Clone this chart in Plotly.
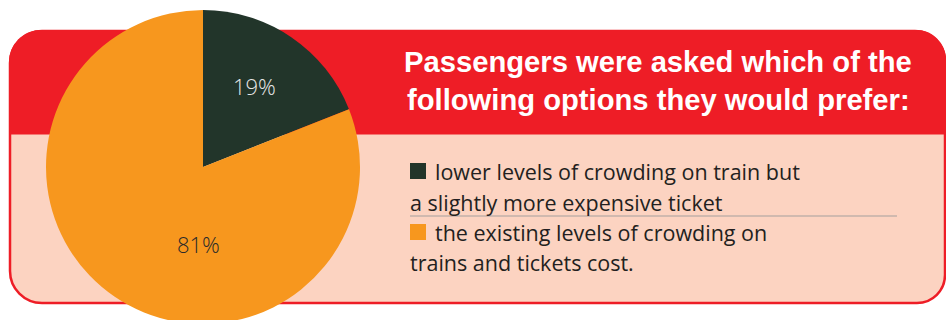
import plotly.graph_objects as go

# ---- data ----
labels = ["lower levels of crowding on train but a slightly more expensive ticket",
          "the existing levels of crowding on trains and tickets cost."]
values = [19, 81]
colors = ["#22352A", "#F7971E"]
pct_text_colors = ["#E6E6E6", "#2A2A2A"]
title_lines = ["Passengers were asked which of the", "following options they would prefer:"]
legend_lines = [["lower levels of crowding on train but", "a slightly more expensive ticket"],
                ["the existing levels of crowding on", "trains and tickets cost."]]

W, H = 946, 334
RED = "#EE1D26"
PEACH = "#FCD3C1"


def px(x):
    return x / W


def py(y):
    return 1 - y / H


def rrect(x0, y0, x1, y1, rtl, rtr, rbr, rbl):
    k = 0.5523
    pts = []
    pts.append(f"M{px(x0 + rtl)},{py(y0)}")
    pts.append(f"L{px(x1 - rtr)},{py(y0)}")
    if rtr:
        pts.append(f"C{px(x1 - rtr + rtr * k)},{py(y0)} {px(x1)},{py(y0 + rtr - rtr * k)} {px(x1)},{py(y0 + rtr)}")
    pts.append(f"L{px(x1)},{py(y1 - rbr)}")
    if rbr:
        pts.append(f"C{px(x1)},{py(y1 - rbr + rbr * k)} {px(x1 - rbr + rbr * k)},{py(y1)} {px(x1 - rbr)},{py(y1)}")
    pts.append(f"L{px(x0 + rbl)},{py(y1)}")
    if rbl:
        pts.append(f"C{px(x0 + rbl - rbl * k)},{py(y1)} {px(x0)},{py(y1 - rbl + rbl * k)} {px(x0)},{py(y1 - rbl)}")
    pts.append(f"L{px(x0)},{py(y0 + rtl)}")
    if rtl:
        pts.append(f"C{px(x0)},{py(y0 + rtl - rtl * k)} {px(x0 + rtl - rtl * k)},{py(y0)} {px(x0 + rtl)},{py(y0)}")
    pts.append("Z")
    return " ".join(pts)


fig = go.Figure()
fig.add_trace(go.Pie(
    labels=labels, values=values, sort=False, direction="clockwise", rotation=0,
    marker=dict(colors=colors, line=dict(width=0)),
    textinfo="none", hoverinfo="skip", showlegend=False,
    domain=dict(x=[px(46), px(360)], y=[py(324), py(10)]),
))

shapes = [
    dict(type="path", xref="paper", yref="paper", layer="below",
         path=rrect(10, 31, 945, 303, 32, 30, 28, 32), fillcolor=PEACH,
         line=dict(color=RED, width=2.5)),
    dict(type="path", xref="paper", yref="paper", layer="below",
         path=rrect(9, 30, 946, 134.5, 32, 30, 0, 0), fillcolor=RED,
         line=dict(width=0)),
    dict(type="line", xref="paper", yref="paper", layer="below",
         x0=px(410), x1=px(897), y0=py(216), y1=py(216),
         line=dict(color="#A3A09E", width=1.2)),
]
sq_y = [163, 224]
for c, y in zip(colors, sq_y):
    shapes.append(dict(type="rect", xref="paper", yref="paper", layer="below",
                       x0=px(410), x1=px(426), y0=py(y), y1=py(y + 16),
                       fillcolor=c, line=dict(width=0)))

annotations = []
for i, t in enumerate(title_lines):
    annotations.append(dict(text=f"<b>{t}</b>", x=px(658), y=py(62 + 38 * i), xref="paper", yref="paper",
                            xanchor="center", yanchor="middle", showarrow=False,
                            font=dict(family="Liberation Sans", size=29.2, color="white")))
line_y = [[172, 202], [232, 262]]
body_font = dict(family="Open Sans", size=21.5, color="#231F20", weight=400)
for lines, ys in zip(legend_lines, line_y):
    annotations.append(dict(text=lines[0], x=px(433), y=py(ys[0]), xref="paper", yref="paper",
                            xanchor="left", yanchor="middle", showarrow=False, font=body_font))
    annotations.append(dict(text=lines[1], x=px(408), y=py(ys[1]), xref="paper", yref="paper",
                            xanchor="left", yanchor="middle", showarrow=False, font=body_font))
pct_pos = [(254, 86), (198, 244)]
for v, c, (x, y) in zip(values, pct_text_colors, pct_pos):
    annotations.append(dict(text=f"{v}%", x=px(x), y=py(y), xref="paper", yref="paper",
                            xanchor="center", yanchor="middle", showarrow=False,
                            font=dict(family="Open Sans", size=22, color=c, weight=300)))

fig.update_layout(width=W, height=H, margin=dict(l=0, r=0, t=0, b=0),
                  paper_bgcolor="white", plot_bgcolor="white",
                  shapes=shapes, annotations=annotations)

fig.write_html("out.html", config={"displayModeBar": False},
               post_script="document.body.style.overflow='hidden';document.body.style.margin='0';")
